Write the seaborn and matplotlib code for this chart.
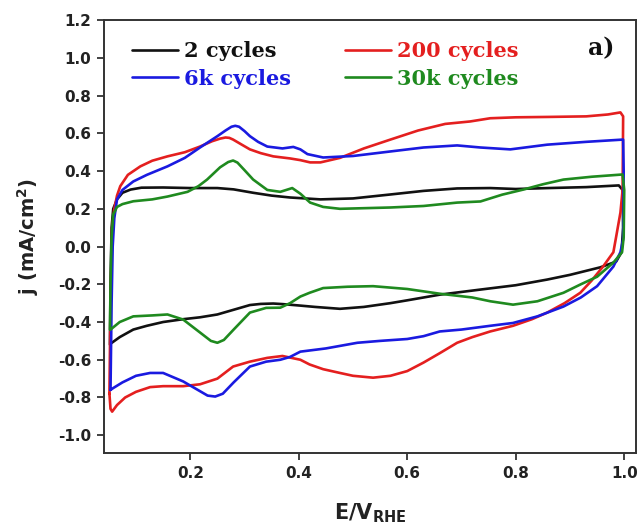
import matplotlib
matplotlib.use('Agg')
from matplotlib import pyplot as plt
from matplotlib.lines import Line2D
import pandas as pd
import seaborn as sns

sns.set_style('ticks')
plt.rcParams['font.family'] = ['DejaVu Sans']
plt.rcParams['mathtext.fontset'] = 'dejavusans'

series_names = ['2 cycles', '200 cycles', '6k cycles', '30k cycles']
series_colors = ['#111111', '#e41f1f', '#1a1ae0', '#1f8a1f']

# each loop: anodic sweep (left -> right) then cathodic sweep (right -> left)
e_2 = [0.052, 0.053, 0.055, 0.058, 0.065, 0.075, 0.09, 0.11, 0.15, 0.2, 0.25, 0.28, 0.316, 0.35,
       0.384, 0.44, 0.5, 0.569, 0.63, 0.692, 0.753, 0.8, 0.86, 0.93, 0.99, 0.997,
       0.998, 0.995, 0.985, 0.956, 0.9, 0.858, 0.8, 0.735, 0.66, 0.6, 0.569, 0.52, 0.476, 0.43,
       0.403, 0.37, 0.353, 0.33, 0.31, 0.28, 0.25, 0.218, 0.187, 0.15, 0.12, 0.095, 0.07, 0.053]
j_2 = [-0.52, -0.2, 0.1, 0.2, 0.25, 0.285, 0.302, 0.312, 0.313, 0.31, 0.31, 0.303, 0.285, 0.27,
       0.26, 0.25, 0.255, 0.276, 0.295, 0.308, 0.31, 0.305, 0.31, 0.315, 0.324, 0.3,
       0.1, -0.03, -0.08, -0.11, -0.15, -0.175, -0.205, -0.228, -0.255, -0.285, -0.3, -0.32, -0.33, -0.32,
       -0.313, -0.305, -0.302, -0.304, -0.31, -0.335, -0.36, -0.375, -0.385, -0.4, -0.42, -0.44, -0.48, -0.515]

e_200 = [0.051, 0.053, 0.056, 0.06, 0.065, 0.071, 0.085, 0.108, 0.13, 0.158, 0.19, 0.218, 0.24, 0.255, 0.265,
         0.272, 0.279, 0.295, 0.31, 0.33, 0.353, 0.384, 0.403, 0.421, 0.44, 0.476, 0.52, 0.569, 0.62, 0.67,
         0.716, 0.753, 0.8, 0.86, 0.93, 0.97, 0.993, 0.998,
         0.997, 0.993, 0.985, 0.98, 0.961, 0.94, 0.919, 0.89, 0.858, 0.83, 0.795, 0.753, 0.72, 0.692,
         0.66, 0.63, 0.6, 0.569, 0.537, 0.5, 0.476, 0.445, 0.42, 0.403, 0.37, 0.342, 0.31, 0.279, 0.25,
         0.218, 0.187, 0.15, 0.126, 0.1, 0.08, 0.065, 0.056, 0.053, 0.051]
j_200 = [-0.78, -0.3, 0.1, 0.2, 0.27, 0.32, 0.38, 0.425, 0.455, 0.478, 0.5, 0.53, 0.558, 0.572, 0.578,
         0.576, 0.567, 0.54, 0.515, 0.495, 0.478, 0.467, 0.458, 0.446, 0.446, 0.47, 0.52, 0.567, 0.615, 0.65,
         0.663, 0.68, 0.685, 0.687, 0.69, 0.7, 0.711, 0.69,
         0.3, 0.18, 0.05, -0.03, -0.106, -0.18, -0.245, -0.3, -0.35, -0.385, -0.42, -0.45, -0.48, -0.51,
         -0.565, -0.615, -0.66, -0.685, -0.695, -0.685, -0.67, -0.65, -0.625, -0.6, -0.58, -0.59, -0.61, -0.636, -0.7,
         -0.73, -0.74, -0.74, -0.745, -0.77, -0.8, -0.84, -0.875, -0.86, -0.78]

e_6k = [0.053, 0.055, 0.057, 0.06, 0.065, 0.075, 0.095, 0.12, 0.158, 0.19, 0.218, 0.25, 0.265, 0.276, 0.283,
        0.29, 0.3, 0.31, 0.325, 0.342, 0.37, 0.39, 0.403, 0.416, 0.445, 0.5, 0.569, 0.63, 0.692, 0.735,
        0.79, 0.858, 0.93, 0.998,
        0.999, 0.998, 0.993, 0.98, 0.95, 0.92, 0.888, 0.84, 0.795, 0.753, 0.7, 0.66, 0.63, 0.6, 0.55,
        0.508, 0.45, 0.403, 0.384, 0.366, 0.34, 0.31, 0.28, 0.26, 0.246, 0.232, 0.22, 0.187, 0.15, 0.126, 0.1,
        0.075, 0.058, 0.053]
j_6k = [-0.76, -0.3, 0.0, 0.15, 0.25, 0.3, 0.345, 0.38, 0.425, 0.47, 0.525, 0.585, 0.615, 0.635, 0.64,
        0.635, 0.612, 0.585, 0.555, 0.53, 0.52, 0.528, 0.515, 0.49, 0.472, 0.48, 0.504, 0.525, 0.536, 0.525,
        0.515, 0.54, 0.555, 0.567,
        0.4, 0.04, -0.03, -0.106, -0.21, -0.27, -0.318, -0.37, -0.405, -0.42, -0.44, -0.45, -0.475, -0.49, -0.5,
        -0.51, -0.54, -0.557, -0.585, -0.6, -0.61, -0.636, -0.72, -0.78, -0.795, -0.79, -0.77, -0.715, -0.67, -0.67, -0.685,
        -0.72, -0.75, -0.76]

e_30k = [0.052, 0.053, 0.055, 0.058, 0.065, 0.075, 0.095, 0.13, 0.158, 0.195, 0.215, 0.231, 0.255, 0.27, 0.279,
         0.287, 0.3, 0.316, 0.342, 0.366, 0.388, 0.403, 0.421, 0.445, 0.476, 0.569, 0.63, 0.692, 0.735, 0.775,
         0.814, 0.85, 0.888, 0.94, 0.997,
         1.0, 0.999, 0.996, 0.98, 0.95, 0.92, 0.888, 0.84, 0.795, 0.753, 0.72, 0.66, 0.6, 0.537, 0.49,
         0.445, 0.42, 0.403, 0.384, 0.366, 0.34, 0.31, 0.28, 0.262, 0.25, 0.238, 0.22, 0.187, 0.158, 0.13, 0.095, 0.07, 0.053]
j_30k = [-0.44, -0.2, 0.05, 0.17, 0.21, 0.225, 0.24, 0.25, 0.265, 0.29, 0.32, 0.355, 0.42, 0.448, 0.456,
         0.445, 0.405, 0.355, 0.3, 0.29, 0.31, 0.28, 0.233, 0.21, 0.2, 0.207, 0.215, 0.233, 0.239, 0.275,
         0.302, 0.33, 0.355, 0.37, 0.382,
         0.3, 0.05, -0.03, -0.085, -0.16, -0.2, -0.245, -0.29, -0.308, -0.29, -0.27, -0.25, -0.225, -0.21, -0.213,
         -0.22, -0.245, -0.265, -0.3, -0.324, -0.325, -0.35, -0.44, -0.495, -0.51, -0.5, -0.46, -0.387, -0.36, -0.365, -0.37, -0.4, -0.44]

x_ticks = [0.2, 0.4, 0.6, 0.8, 1.0]
y_ticks = [-1.0, -0.8, -0.6, -0.4, -0.2, 0.0, 0.2, 0.4, 0.6, 0.8, 1.0, 1.2]

frames = []
for name, e, j in zip(series_names, [e_2, e_200, e_6k, e_30k], [j_2, j_200, j_6k, j_30k]):
    frames.append(pd.DataFrame({'E': e, 'j': j, 'series': name}))
cv = pd.concat(frames, ignore_index=True)
palette = dict(zip(series_names, series_colors))

fig = plt.figure(figsize=(6.4, 5.3), dpi=100)
ax = fig.add_axes([0.1625, 0.145, 0.8315, 0.817])
sns.lineplot(data=cv, x='E', y='j', hue='series', palette=palette, sort=False,
             estimator=None, linewidth=1.9, legend=False, ax=ax,
             solid_joinstyle='round', solid_capstyle='round')

ax.set_xlim(0.041, 1.022)
ax.set_ylim(-1.095, 1.2)
ax.set_xticks(x_ticks)
ax.set_yticks(y_ticks)
ax.set_xticklabels(['%.1f' % v for v in x_ticks])
ax.set_yticklabels(['%.1f' % v for v in y_ticks])
ax.tick_params(direction='out', length=5, width=1.3, color='#333333', labelsize=11, pad=4)
for lab in ax.get_xticklabels() + ax.get_yticklabels():
    lab.set_fontweight('bold')
    lab.set_color('#222222')
for s in ax.spines.values():
    s.set_visible(True)
    s.set_linewidth(1.4)
    s.set_color('#333333')

ax.set_xlabel(r'E/V$_{\mathbf{RHE}}$', fontsize=15, fontweight='bold', color='#222222')
ax.set_ylabel(r'j (mA/cm$^{\mathbf{2}}$)', fontsize=14, fontweight='bold', color='#222222')
ax.xaxis.set_label_coords(0.5, -0.112)
ax.yaxis.set_label_coords(-0.118, 0.5)

order = ['2 cycles', '6k cycles', '200 cycles', '30k cycles']
handles = [Line2D([], [], color=palette[n], lw=1.9) for n in order]
leg = ax.legend(handles, order, ncol=2, loc='upper left', bbox_to_anchor=(0.025, 0.985),
                frameon=False, handlelength=2.2, handletextpad=0.3, columnspacing=2.6,
                labelspacing=0.35, borderpad=0.2,
                prop={'family': 'DejaVu Serif', 'weight': 'bold', 'size': 15})
for txt, n in zip(leg.get_texts(), order):
    txt.set_color(palette[n])

ax.text(0.935, 0.935, 'a)', transform=ax.transAxes, ha='center', va='center',
        fontsize=17, fontweight='bold', family='DejaVu Serif', color='#111111')

fig.savefig('out.png', dpi=100, facecolor='white')
